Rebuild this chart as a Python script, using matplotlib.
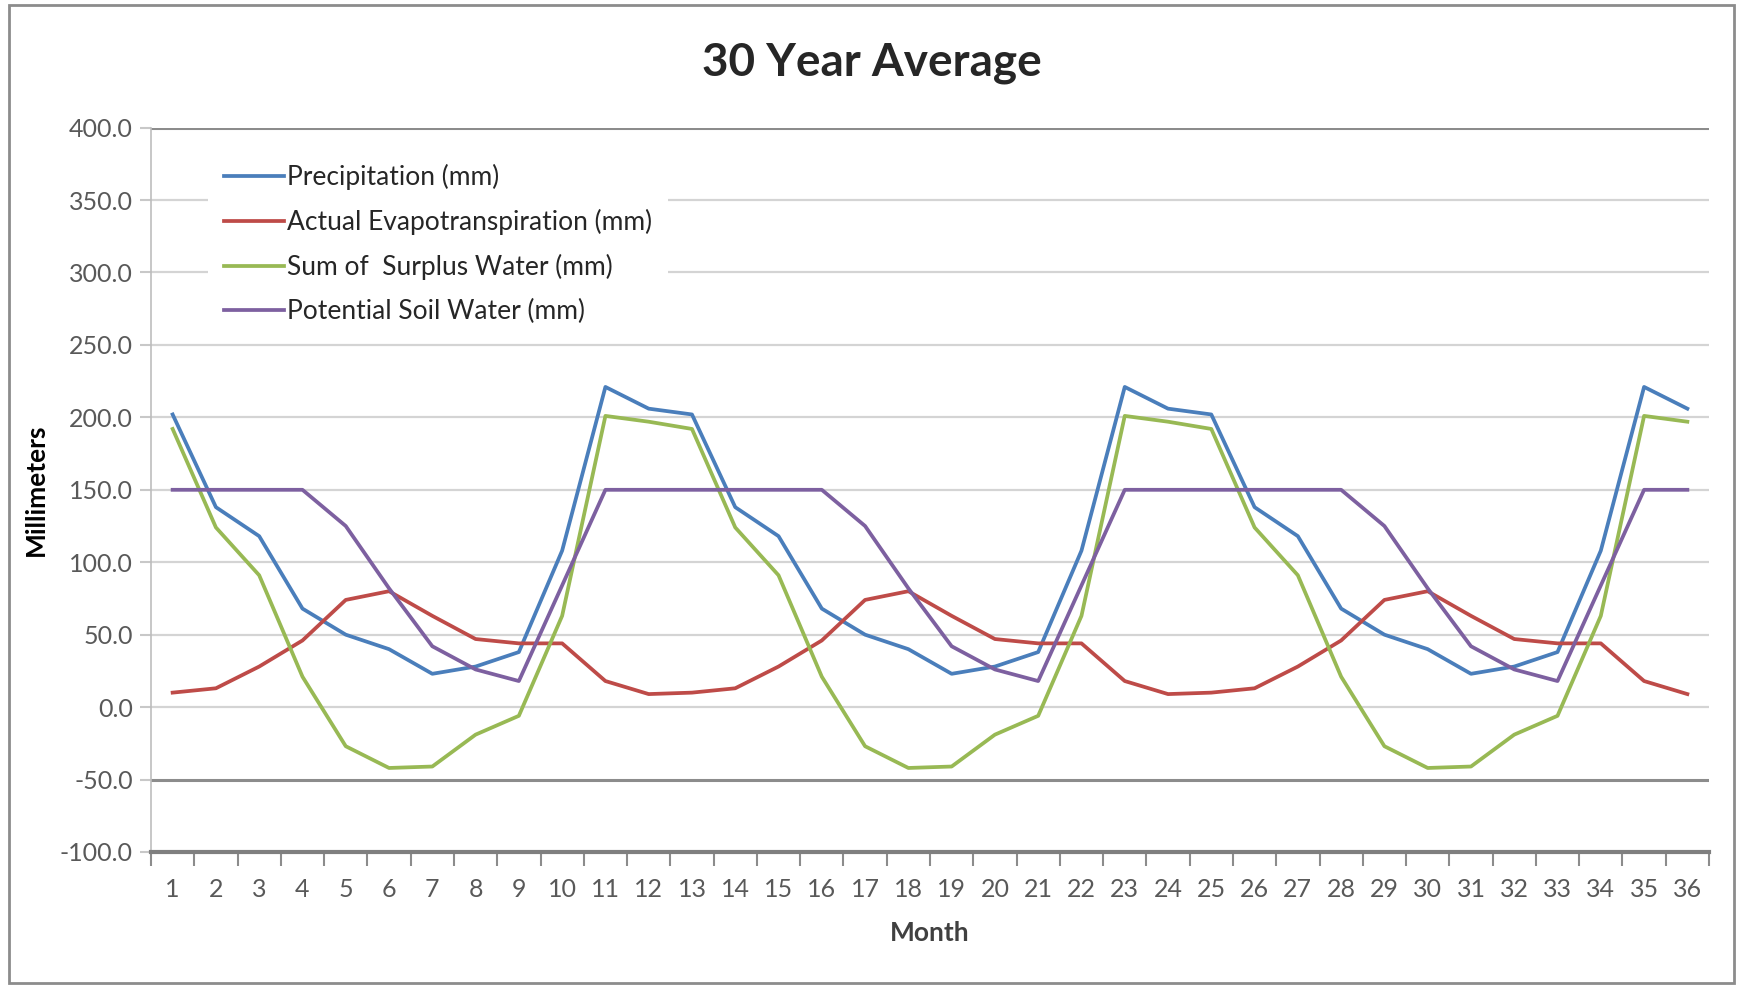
import matplotlib
matplotlib.use("Agg")
import matplotlib.pyplot as plt
from matplotlib.patches import Rectangle
from matplotlib.ticker import FixedLocator, NullFormatter

plt.rcParams['font.family'] = ['Lato', 'DejaVu Sans']

months = list(range(1, 37))
precipitation = [202, 138, 118, 68, 50, 40, 23, 28, 38, 108, 221, 206,
                 202, 138, 118, 68, 50, 40, 23, 28, 38, 108, 221, 206,
                 202, 138, 118, 68, 50, 40, 23, 28, 38, 108, 221, 206]
evapotranspiration = [10, 13, 28, 46, 74, 80, 63, 47, 44, 44, 18, 9,
                      10, 13, 28, 46, 74, 80, 63, 47, 44, 44, 18, 9,
                      10, 13, 28, 46, 74, 80, 63, 47, 44, 44, 18, 9]
surplus = [192, 124, 91, 21, -27, -42, -41, -19, -6, 63, 201, 197,
           192, 124, 91, 21, -27, -42, -41, -19, -6, 63, 201, 197,
           192, 124, 91, 21, -27, -42, -41, -19, -6, 63, 201, 197]
soil_water = [150, 150, 150, 150, 125, 82, 42, 26, 18, 84, 150, 150,
              150, 150, 150, 150, 125, 82, 42, 26, 18, 84, 150, 150,
              150, 150, 150, 150, 125, 82, 42, 26, 18, 84, 150, 150]

series = [
    ("Precipitation (mm)", precipitation, "#4A7EBB"),
    ("Actual Evapotranspiration (mm)", evapotranspiration, "#BE4B48"),
    ("Sum of  Surplus Water (mm)", surplus, "#98B954"),
    ("Potential Soil Water (mm)", soil_water, "#7D60A0"),
]
y_ticks = [-100, -50, 0, 50, 100, 150, 200, 250, 300, 350, 400]

fig = plt.figure(figsize=(17.4, 9.85), dpi=100)
ax = fig.add_axes([151 / 1740, 1 - 852 / 985, (1709 - 151) / 1740, (852 - 127.6) / 985])

# gridlines, Excel style (a few darker ones)
for v in y_ticks:
    if v in (400, -50):
        ax.axhline(v, color="#8c8c8c", lw=2.2, zorder=1)
    elif v == -100:
        continue
    else:
        ax.axhline(v, color="#d4d4d4", lw=1.6, zorder=1)

for label, values, color in series:
    ax.plot(months, values, color=color, lw=2.7, label=label, zorder=3,
            solid_joinstyle="round")

ax.set_xlim(0.5, 36.5)
ax.set_ylim(-100, 400)

ax.set_yticks(y_ticks)
ax.set_yticklabels(["%.1f" % v for v in y_ticks])
ax.tick_params(axis="y", length=8, width=1.5, color="#c8c8c8",
               labelsize=18, labelcolor="#595959", pad=5)

# major ticks on category boundaries, labels in the middle
ax.xaxis.set_major_locator(FixedLocator([m + 0.5 for m in range(0, 37)]))
ax.xaxis.set_major_formatter(NullFormatter())
ax.xaxis.set_minor_locator(FixedLocator(months))
ax.set_xticklabels([str(m) for m in months], minor=True)
ax.tick_params(axis="x", which="major", length=10, width=1.5, color="#8c8c8c")
ax.tick_params(axis="x", which="minor", length=0, labelsize=18,
               labelcolor="#595959", pad=19)

for side in ("top", "right"):
    ax.spines[side].set_visible(False)
ax.spines["left"].set_color("#bdbdbd")
ax.spines["left"].set_linewidth(1.2)
ax.spines["bottom"].set_color("#7f7f7f")
ax.spines["bottom"].set_linewidth(3)

leg = ax.legend(loc="upper left", bbox_to_anchor=(0.028, 0.99), fontsize=19,
                frameon=True, fancybox=False, edgecolor="none", facecolor="white",
                framealpha=1, handlelength=2.3, handletextpad=0.1,
                labelspacing=0.72, borderpad=0.6)
for t in leg.get_texts():
    t.set_color("#262626")

fig.text(872 / 1740, 1 - 63 / 985, "30 Year Average", ha="center", va="center",
         fontsize=33, fontweight="bold", color="#262626")
fig.text(36 / 1740, 1 - 490 / 985, "Millimeters", ha="center", va="center",
         rotation=90, fontsize=19, fontweight="bold", color="black")
fig.text(930 / 1740, 1 - 933 / 985, "Month", ha="center", va="center",
         fontsize=19, fontweight="bold", color="#404040")

# chart area border
fig.patches.append(Rectangle((9 / 1740, 1 - 983 / 985), (1734 - 9) / 1740, (983 - 5) / 985,
                             transform=fig.transFigure, fill=False,
                             edgecolor="#8c8c8c", lw=2))

plt.savefig("out.png", dpi=100)
